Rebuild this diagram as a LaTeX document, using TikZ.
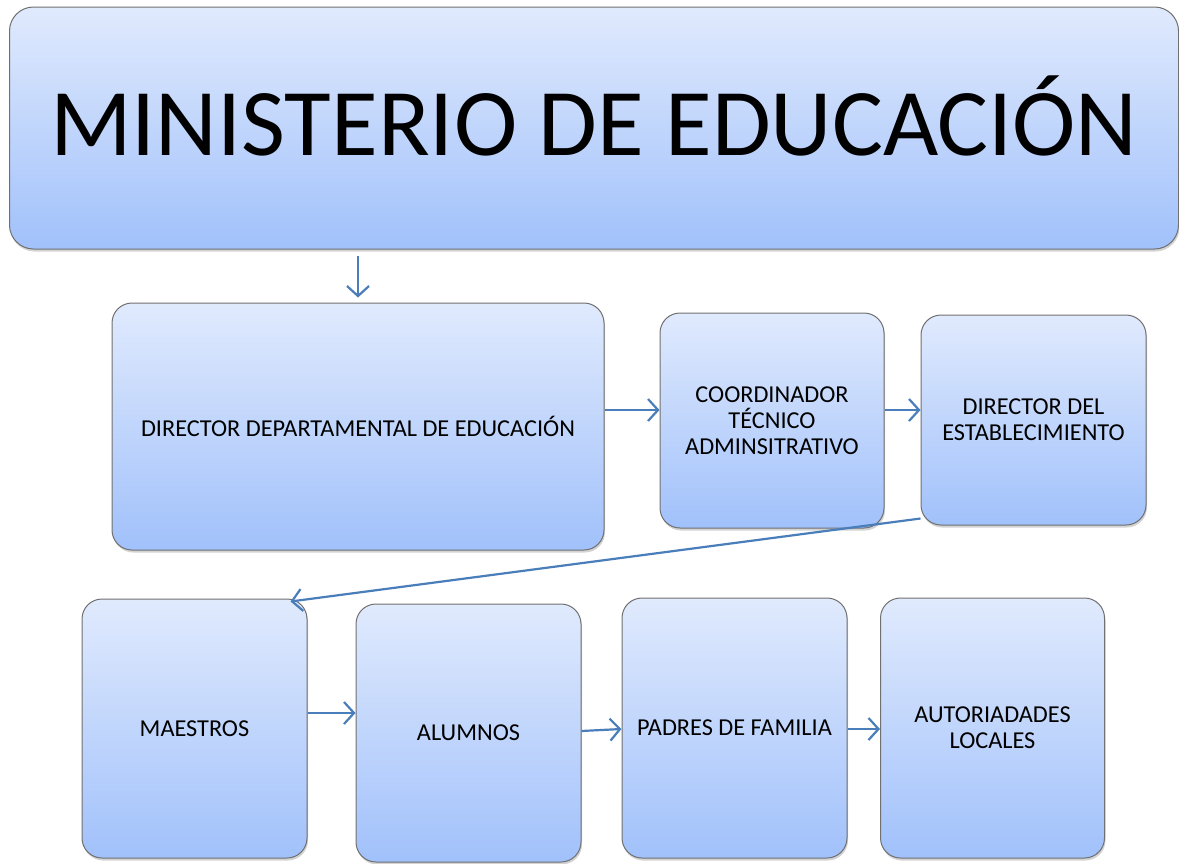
\documentclass[tikz,border=0pt]{standalone}
\usepackage{fontspec}
\setmainfont{Carlito}
\usetikzlibrary{arrows.meta,shadows}

\definecolor{boxtop}{RGB}{224,234,253}
\definecolor{boxbottom}{RGB}{161,193,251}
\definecolor{boxline}{RGB}{112,112,112}
\definecolor{arrowblue}{RGB}{74,126,187}

\tikzstyle{box}=[rectangle, rounded corners=20pt, draw=boxline, line width=1pt, top color=boxtop, bottom color=boxbottom, align=center, font=\fontsize{24.3}{26}\selectfont, drop shadow={opacity=0.35, shadow xshift=1pt, shadow yshift=-2.5pt}]
\tikzstyle{myarrow}=[-{Straight Barb[length=10pt, width=22pt]}, line width=2.2pt, draw=arrowblue]

\begin{document}
\begin{tikzpicture}[x=1pt, y=-1pt]
    \useasboundingbox (0,0) rectangle (1179,863);

    \node (ministerio) at (594,128) [box, rounded corners=24pt, minimum width=1169pt, minimum height=242pt, font=\fontsize{95.5}{100}\selectfont, text height=61pt, text depth=6pt] {MINISTERIO DE EDUCACIÓN};

    \node (dirdep) at (358,426.5) [box, minimum width=492pt, minimum height=247pt] {DIRECTOR DEPARTAMENTAL DE EDUCACIÓN};
    \node (coord) at (772,420.5) [box, minimum width=224pt, minimum height=215pt] {COORDINADOR\\TÉCNICO\\ADMINSITRATIVO};
    \node (direst) at (1033.5,420) [box, minimum width=225pt, minimum height=210pt] {DIRECTOR DEL\\ESTABLECIMIENTO};

    \node (maestros) at (194.5,728.5) [box, minimum width=225pt, minimum height=259pt] {MAESTROS};
    \node (alumnos) at (468.5,733) [box, minimum width=225pt, minimum height=258pt] {ALUMNOS};
    \node (padres) at (734.5,728) [box, minimum width=225pt, minimum height=260pt] {PADRES DE FAMILIA};
    \node (autoridades) at (992.5,728) [box, minimum width=224pt, minimum height=260pt] {AUTORIADADES\\LOCALES};

    \draw[myarrow, shorten <=6pt, shorten >=5pt] (ministerio.south -| dirdep.north) -- (dirdep.north);
    \draw[myarrow] ([yshift=16.5pt]dirdep.east) -- ([yshift=10.5pt]coord.west);
    \draw[myarrow] ([yshift=10.5pt]coord.east) -- ([yshift=10pt]direst.west);
    \draw[myarrow] ([yshift=7pt]direst.south west) -- ([xshift=-17pt, yshift=-3pt]maestros.north east);
    \draw[myarrow] ([yshift=15.5pt]maestros.east) -- ([yshift=20pt]alumnos.west);
    \draw[myarrow] ([yshift=2pt]alumnos.east) -- ([yshift=-1pt]padres.west);
    \draw[myarrow] ([yshift=-1pt]padres.east) -- ([yshift=-1pt]autoridades.west);
\end{tikzpicture}
\end{document}
